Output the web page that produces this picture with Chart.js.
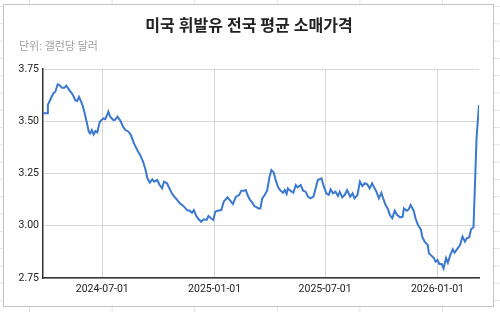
<!DOCTYPE html>
<html>
<head>
<meta charset="utf-8">
<script src="https://cdn.jsdelivr.net/npm/chart.js@4.4.1/dist/chart.umd.min.js"></script>
<style>
  html, body {
    margin: 0;
    padding: 0;
    width: 500px;
    height: 312px;
    overflow: hidden;
    background-color: #fff;
    /* spreadsheet cells behind the chart */
    background-image:
      linear-gradient(to right, #e3e3e3 1px, transparent 1px),
      linear-gradient(to bottom, #e3e3e3 1px, transparent 1px);
    background-size: 82.6px 17.3px;
    background-position: 29px 6px;
  }
  #box {
    position: absolute;
    left: 3px;
    top: 4px;
    width: 491px;
    height: 303px;
    box-sizing: border-box;
    border: 1px solid #c4c4c4;
    background: #fff;
  }
  #box canvas { display: block; }
</style>
</head>
<body>
<div id="box"><canvas id="chart" width="489" height="301"></canvas></div>
<script>
  // data (USD per gallon)
  var dates = [
    '2024-03-26','2024-04-02','2024-04-03','2024-04-08','2024-04-12','2024-04-15','2024-04-19','2024-04-22','2024-04-26','2024-04-30',
    '2024-05-03','2024-05-07','2024-05-11','2024-05-14','2024-05-18','2024-05-21','2024-05-24','2024-05-27','2024-05-30','2024-06-03',
    '2024-06-06','2024-06-09','2024-06-11','2024-06-14','2024-06-17','2024-06-20','2024-06-23','2024-06-27','2024-06-30','2024-07-03',
    '2024-07-06','2024-07-09','2024-07-11','2024-07-14','2024-07-19','2024-07-22','2024-07-26','2024-07-31','2024-08-04','2024-08-08',
    '2024-08-13','2024-08-17','2024-08-22','2024-08-28','2024-09-01','2024-09-06','2024-09-10','2024-09-13','2024-09-17','2024-09-21',
    '2024-09-24','2024-09-29','2024-10-03','2024-10-07','2024-10-10','2024-10-15','2024-10-19','2024-10-23','2024-10-27','2024-11-01',
    '2024-11-05','2024-11-09','2024-11-13','2024-11-17','2024-11-21','2024-11-25','2024-11-28','2024-12-02','2024-12-06','2024-12-10',
    '2024-12-14','2024-12-19','2024-12-22','2024-12-26','2024-12-30','2025-01-02','2025-01-06','2025-01-12','2025-01-16','2025-01-22',
    '2025-01-26','2025-01-31','2025-02-05','2025-02-10','2025-02-14','2025-02-18','2025-02-21','2025-02-24','2025-02-28','2025-03-04',
    '2025-03-07','2025-03-11','2025-03-14','2025-03-17','2025-03-20','2025-03-24','2025-03-28','2025-04-01','2025-04-04','2025-04-08',
    '2025-04-11','2025-04-15','2025-04-19','2025-04-23','2025-04-26','2025-04-29','2025-05-01','2025-05-05','2025-05-10','2025-05-14',
    '2025-05-17','2025-05-22','2025-05-26','2025-05-30','2025-06-03','2025-06-07','2025-06-12','2025-06-15','2025-06-19','2025-06-25',
    '2025-06-29','2025-07-03','2025-07-07','2025-07-10','2025-07-14','2025-07-18','2025-07-22','2025-07-25','2025-07-29','2025-08-02',
    '2025-08-06','2025-08-11','2025-08-15','2025-08-18','2025-08-23','2025-08-27','2025-08-31','2025-09-04','2025-09-08','2025-09-12',
    '2025-09-16','2025-09-20','2025-09-23','2025-09-27','2025-10-01','2025-10-04','2025-10-08','2025-10-12','2025-10-15','2025-10-19',
    '2025-10-23','2025-10-27','2025-11-01','2025-11-05','2025-11-07','2025-11-12','2025-11-15','2025-11-18','2025-11-23','2025-11-26',
    '2025-11-30','2025-12-05','2025-12-07','2025-12-11','2025-12-16','2025-12-18','2025-12-22','2025-12-26','2025-12-29','2026-01-01',
    '2026-01-04','2026-01-08','2026-01-11','2026-01-15','2026-01-18','2026-01-22','2026-01-26','2026-01-29','2026-02-03','2026-02-07',
    '2026-02-11','2026-02-15','2026-02-18','2026-02-22','2026-02-25','2026-03-01','2026-03-04','2026-03-06','2026-03-08','2026-03-10'
  ];
  var prices = [
    3.538,3.538,3.578,3.610,3.634,3.640,3.677,3.673,3.660,3.660,
    3.670,3.654,3.638,3.626,3.600,3.597,3.616,3.597,3.574,3.530,
    3.490,3.450,3.442,3.458,3.437,3.453,3.447,3.498,3.506,3.514,
    3.510,3.530,3.546,3.522,3.506,3.507,3.522,3.501,3.474,3.458,
    3.450,3.434,3.394,3.359,3.339,3.306,3.267,3.227,3.206,3.222,
    3.211,3.219,3.195,3.179,3.211,3.203,3.179,3.155,3.139,3.123,
    3.107,3.099,3.088,3.075,3.072,3.062,3.075,3.047,3.031,3.019,
    3.031,3.028,3.047,3.036,3.028,3.067,3.072,3.075,3.115,3.136,
    3.123,3.104,3.139,3.147,3.168,3.168,3.171,3.147,3.123,3.110,
    3.094,3.088,3.083,3.083,3.131,3.147,3.168,3.235,3.267,3.254,
    3.219,3.184,3.168,3.158,3.171,3.152,3.179,3.168,3.158,3.195,
    3.184,3.195,3.168,3.163,3.139,3.131,3.139,3.174,3.219,3.227,
    3.187,3.155,3.147,3.174,3.155,3.163,3.142,3.163,3.136,3.147,
    3.171,3.139,3.155,3.131,3.147,3.211,3.190,3.203,3.198,3.179,
    3.203,3.179,3.163,3.131,3.158,3.131,3.099,3.079,3.051,3.036,
    3.072,3.051,3.040,3.043,3.083,3.072,3.079,3.099,3.072,3.036,
    3.004,2.980,2.948,2.924,2.908,2.868,2.857,2.845,2.828,2.836,
    2.817,2.817,2.796,2.845,2.823,2.860,2.887,2.871,2.892,2.908,
    2.948,2.924,2.940,2.945,2.983,2.993,3.250,3.420,3.500,3.578
  ];
  var tickDates = ['2024-07-01', '2025-01-01', '2025-07-01', '2026-01-01'];

  var DAY = 86400000;
  function toDay(s) {
    var p = s.split('-');
    return Date.UTC(+p[0], +p[1] - 1, +p[2]) / DAY;
  }
  function fromDay(d) {
    return new Date(d * DAY).toISOString().slice(0, 10);
  }

  var points = dates.map(function (d, i) {
    return { x: toDay(d), y: prices[i] };
  });

  var fontFamily = 'Roboto, "Noto Sans CJK KR", "Noto Sans", sans-serif';

  new Chart(document.getElementById('chart'), {
    type: 'line',
    data: {
      datasets: [{
        data: points,
        borderColor: '#3b78d0',
        borderWidth: 2,
        pointRadius: 0,
        tension: 0,
        fill: false
      }]
    },
    options: {
      responsive: false,
      animation: false,
      devicePixelRatio: 1,
      layout: { padding: { left: 15, right: 14, top: 0, bottom: 4 } },
      plugins: {
        legend: { display: false },
        tooltip: { enabled: false },
        title: {
          display: true,
          text: '미국 휘발유 전국 평균 소매가격',
          color: '#222',
          font: { family: fontFamily, size: 16, weight: 'bold', lineHeight: 1.2 },
          padding: { top: 12, bottom: 0 }
        },
        subtitle: {
          display: true,
          text: '단위: 갤런당 달러',
          align: 'start',
          color: '#9e9e9e',
          font: { family: fontFamily, size: 11, lineHeight: 1.2 },
          padding: { top: 4, bottom: 15.6 }
        }
      },
      scales: {
        x: {
          type: 'linear',
          min: toDay(dates[0]),
          max: toDay(dates[dates.length - 1]),
          afterBuildTicks: function (scale) {
            scale.ticks = tickDates.map(function (d) { return { value: toDay(d) }; });
          },
          afterFit: function (scale) { scale.height = 24; },
          ticks: {
            autoSkip: false,
            maxRotation: 0,
            padding: 5,
            color: '#222',
            font: { family: fontFamily, size: 10.5 },
            callback: function (v) { return fromDay(v); }
          },
          grid: { color: '#d6d6d6', drawTicks: false },
          border: { color: '#333', width: 1.5 }
        },
        y: {
          min: 2.75,
          max: 3.75,
          afterFit: function (scale) { scale.width = 24; },
          ticks: {
            stepSize: 0.25,
            padding: 4,
            color: '#222',
            font: { family: fontFamily, size: 10.5 },
            callback: function (v) { return v.toFixed(2); }
          },
          grid: { color: '#d6d6d6', drawTicks: false },
          border: { color: '#333', width: 1.5 }
        }
      }
    }
  });
</script>
</body>
</html>
